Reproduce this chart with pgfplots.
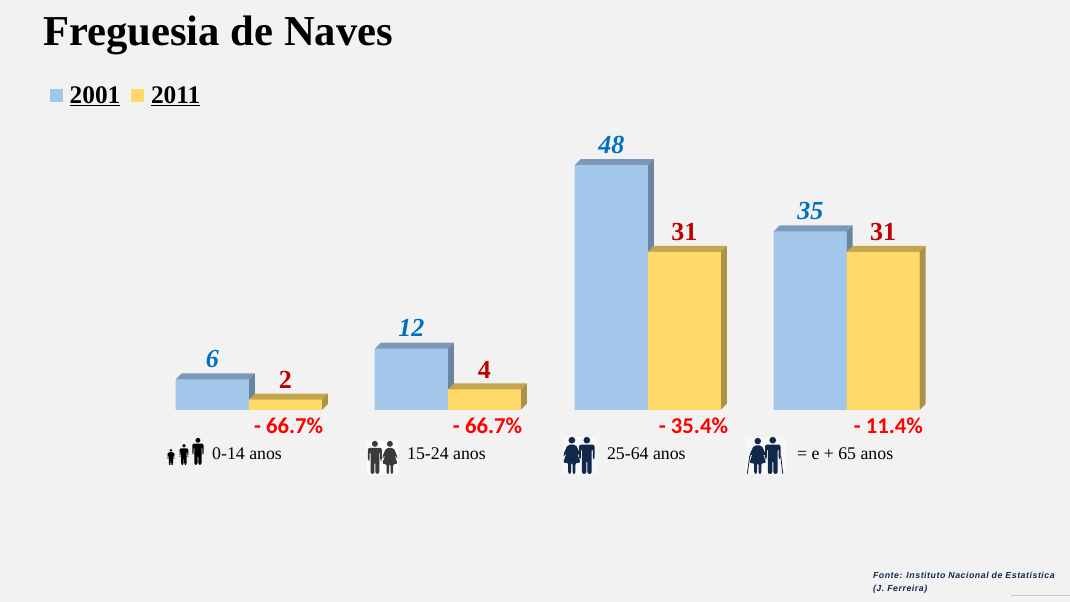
\documentclass[border=0pt]{standalone}
\usepackage{fontspec}
\setmainfont{Liberation Serif}
\newfontfamily\carlito{Carlito}
\newfontfamily\lsans[LetterSpace=6]{Liberation Sans}
\usepackage{pgfplots}
\pgfplotsset{compat=1.18}
\definecolor{bgc}{HTML}{F2F2F2}
\definecolor{blueF}{HTML}{A2C7EB}
\definecolor{blueT}{HTML}{7C99BA}
\definecolor{blueS}{HTML}{6B84A1}
\definecolor{yelF}{HTML}{FFDA6A}
\definecolor{yelT}{HTML}{C4A64F}
\definecolor{yelS}{HTML}{AB9246}
\definecolor{valB}{HTML}{0070C0}
\definecolor{valR}{HTML}{C00000}
\definecolor{navy}{HTML}{10294A}
\definecolor{grayP}{HTML}{3A3A3A}
\newcommand{\mandraw}[1]{%
  \fill[#1] (0,9) ellipse [x radius=6.5, y radius=9];
  \fill[#1,rounded corners=1.5] (-15,21) -- (15,21) -- (15,60) -- (11.5,60) -- (11.5,32) -- (9.5,32) -- (9.5,100) -- (1,100) -- (1,64) -- (-1,64) -- (-1,100) -- (-9.5,100) -- (-9.5,32) -- (-11.5,32) -- (-11.5,60) -- (-15,60) -- cycle;}
\newcommand{\womandraw}[1]{%
  \fill[#1] (0,9) ellipse [x radius=6.5, y radius=9];
  \fill[#1,rounded corners=1.5] (-8,21) -- (8,21) -- (17,50) -- (13,52) -- (8,36) -- (17,70) -- (7,70) -- (7,100) -- (1.5,100) -- (1.5,70) -- (-1.5,70) -- (-1.5,100) -- (-7,100) -- (-7,70) -- (-17,70) -- (-8,36) -- (-13,52) -- (-17,50) -- cycle;}
\newcommand{\person}[5]{\begin{scope}[shift={(#2,#3)},xscale=1.4*#4/100,yscale=#4/100]#1{#5}\end{scope}}
\begin{document}
\begin{tikzpicture}
\begin{axis}[
  scale only axis, width=802.5pt, height=451.5pt,
  xmin=0, xmax=1070, ymin=-37.647, ymax=80.392,
  axis line style={draw=none}, xtick=\empty, ytick=\empty,
  major tick length=0pt,
  axis background/.style={fill=bgc},
  clip=false,
  /pgf/number format/assume math mode=true,
  legend columns=2,
  legend cell align=left,
  legend style={draw=none, fill=none, at={(axis cs:49.5,61.6)}, anchor=west, inner sep=0pt,
    font=\fontsize{19pt}{20pt}\selectfont\bfseries,
    /tikz/every even column/.append style={column sep=6pt}},
  legend image code/.code={\fill[#1,draw=none] (0pt,-4.9pt) rectangle (9.8pt,4.9pt);\path (13pt,0pt);},
]
% depth faces: top (2001)
\addplot[forget plot,fill=blueT,draw=none] coordinates {(176,6) (182,7.18) (255,7.18) (249,6)} \closedcycle;
\addplot[forget plot,fill=blueT,draw=none] coordinates {(375,12) (381,13.18) (454,13.18) (448,12)} \closedcycle;
\addplot[forget plot,fill=blueT,draw=none] coordinates {(575,48) (581,49.18) (654,49.18) (648,48)} \closedcycle;
\addplot[forget plot,fill=blueT,draw=none] coordinates {(774,35) (780,36.18) (853,36.18) (847,35)} \closedcycle;
% depth faces: side (2001)
\addplot[forget plot,fill=blueS,draw=none] coordinates {(249,0) (255,1.18) (255,7.18) (249,6)} \closedcycle;
\addplot[forget plot,fill=blueS,draw=none] coordinates {(448,0) (454,1.18) (454,13.18) (448,12)} \closedcycle;
\addplot[forget plot,fill=blueS,draw=none] coordinates {(648,0) (654,1.18) (654,49.18) (648,48)} \closedcycle;
\addplot[forget plot,fill=blueS,draw=none] coordinates {(847,0) (853,1.18) (853,36.18) (847,35)} \closedcycle;
% depth faces: top (2011)
\addplot[forget plot,fill=yelT,draw=none] coordinates {(249,2) (255,3.18) (328,3.18) (322,2)} \closedcycle;
\addplot[forget plot,fill=yelT,draw=none] coordinates {(448,4) (454,5.18) (527,5.18) (521,4)} \closedcycle;
\addplot[forget plot,fill=yelT,draw=none] coordinates {(648,31) (654,32.18) (727,32.18) (721,31)} \closedcycle;
\addplot[forget plot,fill=yelT,draw=none] coordinates {(847,31) (853,32.18) (926,32.18) (920,31)} \closedcycle;
% depth faces: side (2011)
\addplot[forget plot,fill=yelS,draw=none] coordinates {(322,0) (328,1.18) (328,3.18) (322,2)} \closedcycle;
\addplot[forget plot,fill=yelS,draw=none] coordinates {(521,0) (527,1.18) (527,5.18) (521,4)} \closedcycle;
\addplot[forget plot,fill=yelS,draw=none] coordinates {(721,0) (727,1.18) (727,32.18) (721,31)} \closedcycle;
\addplot[forget plot,fill=yelS,draw=none] coordinates {(920,0) (926,1.18) (926,32.18) (920,31)} \closedcycle;
% front faces
\addplot[ybar, bar width=73, bar shift=0pt, fill=blueF, draw=none,
  nodes near coords,
  nodes near coords style={anchor=base, yshift=8.8pt, text=valB,
     font=\fontsize{19.5pt}{20pt}\selectfont\bfseries\itshape}]
  coordinates {(212.5,6) (411.5,12) (611.5,48) (810.5,35)};
\addlegendentry{\underline{2001}}
\addplot[ybar, bar width=73, bar shift=0pt, fill=yelF, draw=none,
  nodes near coords,
  nodes near coords style={anchor=base, yshift=8.2pt, text=valR,
     font=\fontsize{19.5pt}{20pt}\selectfont\bfseries}]
  coordinates {(285.5,2) (484.5,4) (684.5,31) (883.5,31)};
\addlegendentry{\underline{2011}}
\end{axis}
\begin{scope}[x=0.75pt,y=-0.75pt,shift={(0pt,451.5pt)}]
  \node[anchor=base west,inner sep=0pt,font=\fontsize{32pt}{34pt}\selectfont\bfseries] at (43,46) {Freguesia de Naves};
  % percent changes
  \foreach \xx/\tt in {323.5/66.7,522.5/66.7,728.5/35.4,923.5/11.4}
    \node[anchor=base east,inner sep=0pt,text=red,font=\fontsize{17pt}{18pt}\selectfont\carlito\bfseries] at (\xx,434) {- \tt\%};
  % age groups
  \foreach \xx/\tt in {212/0-14 anos,407/15-24 anos,607/25-64 anos,797/= e + 65 anos}
    \node[anchor=base west,inner sep=0pt,font=\fontsize{13.35pt}{14pt}\selectfont] at (\xx,460) {\tt};
  % source
  \node[anchor=base west,inner sep=0pt,text=navy,font=\fontsize{6.6pt}{7pt}\selectfont\lsans\bfseries\itshape] at (873,579) {Fonte: Instituto Nacional de Estatística};
  \node[anchor=base west,inner sep=0pt,text=navy,font=\fontsize{6.6pt}{7pt}\selectfont\lsans\bfseries\itshape] at (873,592) {(J. Ferreira)};
  \draw[gray!45,line width=0.5pt] (1011,596) -- (1070,596);
  % pictogram backgrounds
  \fill[white!70!bgc] (367,441) rectangle (398,475);
  \fill[white!35!bgc] (563,437) rectangle (597,474);
  \fill[white!35!bgc] (746,437) rectangle (786,474);
  % pictograms
  \person{\mandraw}{171}{449}{16}{black}
  \person{\mandraw}{184}{444}{21}{black}
  \person{\mandraw}{198}{438}{27}{black}
  \person{\mandraw}{375}{441}{33}{grayP}
  \person{\womandraw}{390}{441}{33}{grayP}
  \person{\womandraw}{572}{437}{37}{navy}
  \person{\mandraw}{587}{437}{37}{navy}
  \person{\womandraw}{758}{438}{36}{navy}
  \person{\mandraw}{773}{437}{37}{navy}
  \draw[navy,line width=0.6pt] (750,456) -- (747.5,474);
  \draw[navy,line width=0.6pt] (781,456) -- (783,474);
\end{scope}
\end{tikzpicture}
\end{document}
